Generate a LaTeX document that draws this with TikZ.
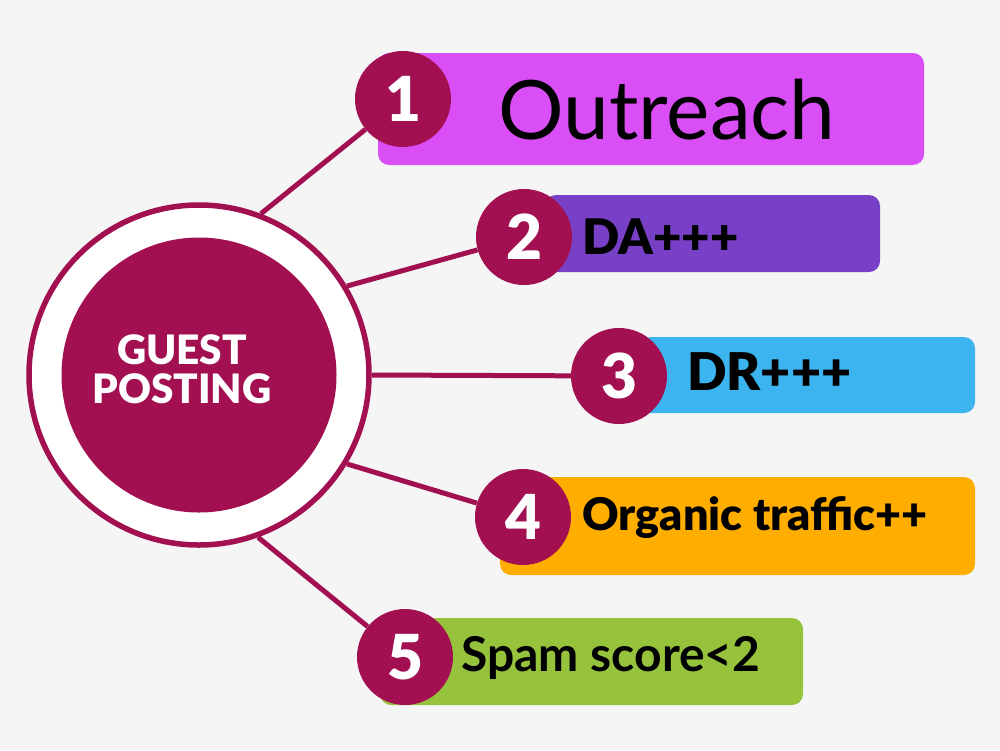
\documentclass[tikz,border=0pt]{standalone}
\usepackage{fontspec}
\setmainfont{Lato}
\newfontfamily\blackfont{Lato Black}
\newfontfamily\boldfont{Lato Bold}
\usetikzlibrary{calc}
\definecolor{bgc}{HTML}{F5F5F5}
\definecolor{maroon}{HTML}{A31052}
\definecolor{cone}{HTML}{DA4EF6}
\definecolor{ctwo}{HTML}{7840C6}
\definecolor{cthree}{HTML}{3BB4EF}
\definecolor{cfour}{HTML}{FFAE00}
\definecolor{cfive}{HTML}{96C23C}
\pgfdeclarelayer{bglayer}
\pgfdeclarelayer{midlayer}
\pgfsetlayers{bglayer,midlayer,main}
\tikzset{
  numc/.style={circle, fill=maroon, minimum size=96pt, inner sep=0pt, text=white, font=\blackfont\fontsize{62}{62}\selectfont},
  barbox/.style={rounded corners=11pt, inner sep=0pt},
  conn/.style={draw=maroon, line width=5pt},
  bartext/.style={anchor=west, inner sep=0pt, text=black, font=\blackfont\fontsize{49}{49}\selectfont},
}
\begin{document}
\begin{tikzpicture}[x=1pt,y=-1pt]
\begin{pgfonlayer}{bglayer}
\fill[bgc] (0,0) rectangle (1000,750);
\end{pgfonlayer}
\useasboundingbox (0,0) rectangle (1000,750);

% central circle
\node[circle, draw=maroon, line width=5.5pt, fill=white, minimum size=340pt, inner sep=0pt] (ring) at (199,375) {};
\node[circle, fill=maroon, minimum size=275pt, inner sep=0pt] (core) at (199,375) {};
\node[text=white, align=center, font=\blackfont\fontsize{40.5}{39}\selectfont] (title) at (182,369) {GUEST\\POSTING};

% number circles
\node[numc] (n1) at (403,99) {1};
\node[numc] (n2) at (524,237) {2};
\node[numc] (n3) at (619,376) {3};
\node[numc] (n4) at (523,517) {4};
\node[numc] (n5) at (405,657) {5};

\begin{pgfonlayer}{midlayer}
\node[barbox, fill=cone, minimum width=546pt, minimum height=112pt] (b1) at (651,109) {};
\node[barbox, fill=ctwo, minimum width=335pt, minimum height=77pt] (b2) at (712.5,233.5) {};
\node[barbox, fill=cthree, minimum width=335pt, minimum height=76pt] (b3) at (807.5,375) {};
\node[barbox, fill=cfour, minimum width=475pt, minimum height=98pt] (b4) at (737.5,526) {};
\node[barbox, fill=cfive, minimum width=423pt, minimum height=87pt] (b5) at (591.5,661.5) {};
\draw[conn] (ring.69) -- (n1);
\draw[conn] (ring.31) -- (n2);
\draw[conn] (ring.0) -- (n3);
\draw[conn] (ring.-31) -- (n4);
\draw[conn] (ring.-70) -- (n5);
\end{pgfonlayer}

% bar texts
\node[anchor=west, inner sep=0pt, font=\fontsize{82}{82}\selectfont] (t1) at (498,110) {Outreach};
\node[bartext] (t2) at (582,237) {DA+++};
\node[bartext, font=\blackfont\fontsize{52}{52}\selectfont] (t3) at (687,372) {DR+++};
\node[bartext, font=\blackfont\fontsize{45}{45}\selectfont] (t4) at (582,518) {Organic traffic++};
\node[bartext, font=\boldfont\fontsize{48}{48}\selectfont] (t5) at (461,658) {Spam score<2};
\end{tikzpicture}
\end{document}
